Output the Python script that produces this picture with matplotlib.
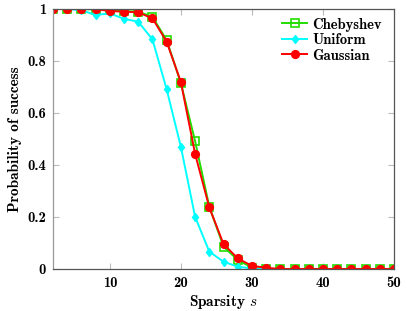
import numpy as np
import matplotlib.pyplot as plt

# sparsity levels
sparsity = list(range(2, 51, 2))

chebyshev = [1.0, 1.0, 1.0, 0.998, 0.995, 0.992, 0.99, 0.97, 0.88, 0.715,
             0.492, 0.24, 0.086, 0.035, 0.005, 0.0, 0.0, 0.0, 0.0, 0.0,
             0.0, 0.0, 0.0, 0.0, 0.0]
uniform = [1.0, 1.0, 0.995, 0.977, 0.983, 0.962, 0.951, 0.883, 0.691, 0.47,
           0.201, 0.067, 0.028, 0.009, 0.002, 0.0, 0.0, 0.0, 0.0, 0.0,
           0.0, 0.0, 0.0, 0.0, 0.0]
gaussian = [1.0, 1.0, 1.0, 1.0, 0.992, 0.99, 0.987, 0.964, 0.874, 0.719,
            0.443, 0.237, 0.096, 0.041, 0.012, 0.005, 0.0, 0.0, 0.0, 0.0,
            0.0, 0.0, 0.0, 0.0, 0.0]

FONT = "cmb10"
plt.rcParams["font.family"] = [FONT, "DejaVu Serif"]
plt.rcParams["mathtext.fontset"] = "cm"

fig = plt.figure(figsize=(4.07, 3.11), dpi=100)
ax = fig.add_axes([53 / 407, 42 / 311, 341 / 407, 260 / 311])

ax.plot(sparsity, chebyshev, color="#22dd00", lw=1.4, marker="s", ms=5.5,
        mfc="none", mew=1.2, label="Chebyshev")
ax.plot(sparsity, uniform, color="cyan", lw=1.4, marker="d", ms=4.5,
        label="Uniform")
ax.plot(sparsity, gaussian, color="red", lw=1.4, marker="o", ms=5.6,
        label="Gaussian")

ax.set_xlim(2, 50)
ax.set_ylim(0, 1)
ax.set_xticks([10, 20, 30, 40, 50])
ax.set_yticks([0, 0.2, 0.4, 0.6, 0.8, 1])
ax.set_yticklabels(["0", "0.2", "0.4", "0.6", "0.8", "1"])

for s in ax.spines.values():
    s.set_color("#555555")
    s.set_linewidth(0.9)
ax.spines["left"].set_color("#999999")
ax.tick_params(direction="in", length=4, color="#bbbbbb", top=True, right=True,
               labelsize=10.5, pad=5)

ax.set_xlabel("Sparsity $s$", fontsize=11, labelpad=2)
ax.set_ylabel("Probability of success", fontsize=11, labelpad=4)

leg = ax.legend(loc="upper right", fontsize=10.5, frameon=False,
                handlelength=1.7, handletextpad=0.35, borderpad=0.3,
                labelspacing=0.1, borderaxespad=0.2,
                bbox_to_anchor=(0.985, 0.995))

fig.savefig("out.png", dpi=100)
